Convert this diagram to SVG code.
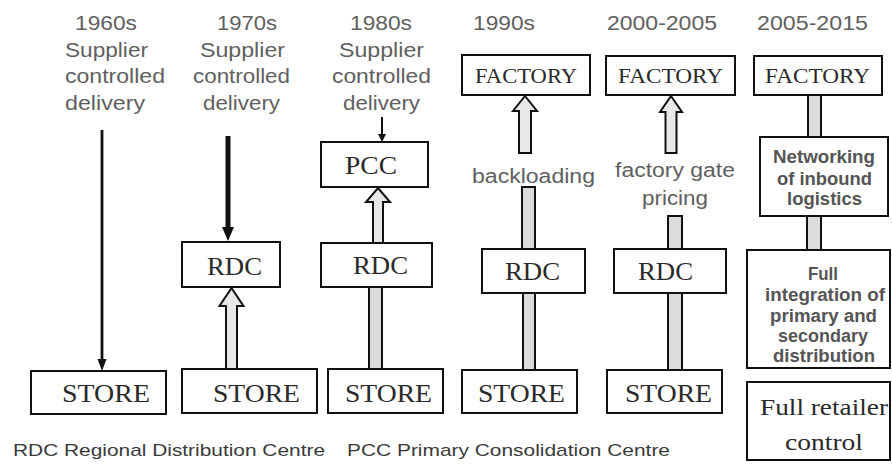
<svg xmlns="http://www.w3.org/2000/svg" width="892" height="465" viewBox="0 0 892 465">
<style>
.bg{fill:#fff}
.box{fill:#fff;stroke:#111;stroke-width:2}
.bar{fill:#dcdcdc;stroke:#111;stroke-width:2}
.blk{fill:#e8e8e8;stroke:#111;stroke-width:2;stroke-linejoin:miter}
.ln{stroke:#111;fill:none}
.hd{fill:#111}
.hdr{font-family:"Liberation Sans",Arial,sans-serif;font-size:20px;fill:#606060}
.ftr{font-family:"Liberation Sans",Arial,sans-serif;font-size:17px;fill:#3a3a3a}
.bld{font-family:"Liberation Sans",Arial,sans-serif;font-size:18px;font-weight:bold;fill:#555}
.ser{font-family:"Liberation Serif","Times New Roman",serif;fill:#2a2a2a}
</style>
<rect class="bg" x="0" y="0" width="892" height="465"/>

<g id="headers">
<text class="hdr" x="75" y="30" textLength="62" lengthAdjust="spacingAndGlyphs">1960s</text>
<text class="hdr" x="65" y="57" textLength="83" lengthAdjust="spacingAndGlyphs">Supplier</text>
<text class="hdr" x="65" y="83" textLength="100" lengthAdjust="spacingAndGlyphs">controlled</text>
<text class="hdr" x="65" y="110" textLength="80" lengthAdjust="spacingAndGlyphs">delivery</text>
<text class="hdr" x="217" y="30" textLength="60" lengthAdjust="spacingAndGlyphs">1970s</text>
<text class="hdr" x="200" y="57" textLength="85" lengthAdjust="spacingAndGlyphs">Supplier</text>
<text class="hdr" x="193" y="83" textLength="97" lengthAdjust="spacingAndGlyphs">controlled</text>
<text class="hdr" x="203" y="110" textLength="77" lengthAdjust="spacingAndGlyphs">delivery</text>
<text class="hdr" x="350" y="30" textLength="62" lengthAdjust="spacingAndGlyphs">1980s</text>
<text class="hdr" x="339" y="57" textLength="85" lengthAdjust="spacingAndGlyphs">Supplier</text>
<text class="hdr" x="332" y="83" textLength="99" lengthAdjust="spacingAndGlyphs">controlled</text>
<text class="hdr" x="343" y="110" textLength="77" lengthAdjust="spacingAndGlyphs">delivery</text>
<text class="hdr" x="473" y="30" textLength="62" lengthAdjust="spacingAndGlyphs">1990s</text>
<text class="hdr" x="607" y="30" textLength="110" lengthAdjust="spacingAndGlyphs">2000-2005</text>
<text class="hdr" x="757" y="30" textLength="111" lengthAdjust="spacingAndGlyphs">2005-2015</text>
<text class="hdr" x="472" y="183" textLength="123" lengthAdjust="spacingAndGlyphs">backloading</text>
<text class="hdr" x="615" y="177" textLength="120" lengthAdjust="spacingAndGlyphs">factory gate</text>
<text class="hdr" x="642" y="205" textLength="66" lengthAdjust="spacingAndGlyphs">pricing</text>
</g>

<g id="connectors">
<line class="ln" x1="102" y1="130" x2="102" y2="362" stroke-width="2.8"/>
<polygon class="hd" points="97.5,359 106.5,359 102,371"/>
<line class="ln" x1="228" y1="136" x2="228" y2="230" stroke-width="5"/>
<polygon class="hd" points="222,227 234,227 228,241"/>
<line class="ln" x1="382" y1="117" x2="382" y2="137" stroke-width="2"/>
<polygon class="hd" points="378,134 386,134 382,142"/>
<path class="blk" d="M231.5,288 L243.5,306 L237,306 L237,369 L226,369 L226,306 L219.5,306 Z"/>
<path class="blk" d="M378,188 L390,202 L383,202 L383,243 L373,243 L373,202 L366,202 Z"/>
<path class="blk" d="M525,96 L537,111 L531,111 L531,153 L519,153 L519,111 L513,111 Z"/>
<path class="blk" d="M671,96 L682,112 L676.5,112 L676.5,153 L665.5,153 L665.5,112 L660,112 Z"/>
<rect class="bar" x="369" y="287" width="13" height="82"/>
<rect class="bar" x="522" y="187" width="13" height="62"/>
<rect class="bar" x="523" y="293" width="12" height="77"/>
<rect class="bar" x="668" y="216" width="14" height="33"/>
<rect class="bar" x="668" y="293" width="14" height="77"/>
<rect class="bar" x="808" y="95" width="13" height="42"/>
<rect class="bar" x="807" y="216" width="14" height="34"/>
</g>

<g id="store1"><rect class="box" x="31" y="371" width="135" height="43"/><text class="ser" x="62" y="402" font-size="25" textLength="88" lengthAdjust="spacingAndGlyphs">STORE</text></g>
<g id="store2"><rect class="box" x="182" y="369" width="135" height="44"/><text class="ser" x="213" y="402" font-size="25" textLength="87" lengthAdjust="spacingAndGlyphs">STORE</text></g>
<g id="store3"><rect class="box" x="328" y="369" width="115" height="44"/><text class="ser" x="345" y="402" font-size="25" textLength="87" lengthAdjust="spacingAndGlyphs">STORE</text></g>
<g id="store4"><rect class="box" x="462" y="370" width="115" height="43"/><text class="ser" x="478" y="402" font-size="25" textLength="87" lengthAdjust="spacingAndGlyphs">STORE</text></g>
<g id="store5"><rect class="box" x="607" y="370" width="115" height="43"/><text class="ser" x="625" y="402" font-size="25" textLength="87" lengthAdjust="spacingAndGlyphs">STORE</text></g>

<g id="rdc2"><rect class="box" x="182" y="242" width="98" height="45"/><text class="ser" x="207" y="275" font-size="26" textLength="55" lengthAdjust="spacingAndGlyphs">RDC</text></g>
<g id="rdc3"><rect class="box" x="321" y="243" width="111" height="44"/><text class="ser" x="353" y="274" font-size="26" textLength="55" lengthAdjust="spacingAndGlyphs">RDC</text></g>
<g id="rdc4"><rect class="box" x="482" y="249" width="103" height="44"/><text class="ser" x="505" y="280" font-size="26" textLength="55" lengthAdjust="spacingAndGlyphs">RDC</text></g>
<g id="rdc5"><rect class="box" x="614" y="249" width="112" height="44"/><text class="ser" x="638" y="280" font-size="26" textLength="55" lengthAdjust="spacingAndGlyphs">RDC</text></g>

<g id="pcc3"><rect class="box" x="321" y="142" width="107" height="45"/><text class="ser" x="345" y="174" font-size="26" textLength="52" lengthAdjust="spacingAndGlyphs">PCC</text></g>

<g id="factory4"><rect class="box" x="462" y="55" width="128" height="40"/><text class="ser" x="475" y="83" font-size="22" textLength="102" lengthAdjust="spacingAndGlyphs">FACTORY</text></g>
<g id="factory5"><rect class="box" x="606" y="56" width="129" height="39"/><text class="ser" x="618" y="83" font-size="22" textLength="105" lengthAdjust="spacingAndGlyphs">FACTORY</text></g>
<g id="factory6"><rect class="box" x="754" y="56" width="128" height="39"/><text class="ser" x="765" y="83" font-size="22" textLength="105" lengthAdjust="spacingAndGlyphs">FACTORY</text></g>

<g id="networking"><rect class="box" x="760" y="137" width="128" height="79"/>
<text class="bld" x="773" y="163" textLength="102" lengthAdjust="spacingAndGlyphs">Networking</text>
<text class="bld" x="777" y="185" textLength="95" lengthAdjust="spacingAndGlyphs">of inbound</text>
<text class="bld" x="787" y="205" textLength="75" lengthAdjust="spacingAndGlyphs">logistics</text>
</g>

<g id="integration"><rect class="box" x="747" y="250" width="143" height="118"/>
<text class="bld" x="808" y="280" textLength="30" lengthAdjust="spacingAndGlyphs">Full</text>
<text class="bld" x="765" y="301" textLength="120" lengthAdjust="spacingAndGlyphs">integration of</text>
<text class="bld" x="770" y="322" textLength="107" lengthAdjust="spacingAndGlyphs">primary and</text>
<text class="bld" x="778" y="342" textLength="90" lengthAdjust="spacingAndGlyphs">secondary</text>
<text class="bld" x="773" y="362" textLength="102" lengthAdjust="spacingAndGlyphs">distribution</text>
</g>

<g id="retailer"><rect class="box" x="747" y="382" width="143" height="78"/>
<text class="ser" x="760" y="415" font-size="24" textLength="128" lengthAdjust="spacingAndGlyphs">Full retailer</text>
<text class="ser" x="785" y="450" font-size="24" textLength="78" lengthAdjust="spacingAndGlyphs">control</text>
</g>

<g id="legend">
<text class="ftr" x="13" y="456" textLength="312" lengthAdjust="spacingAndGlyphs">RDC Regional Distribution Centre</text>
<text class="ftr" x="347" y="456" textLength="323" lengthAdjust="spacingAndGlyphs">PCC Primary Consolidation Centre</text>
</g>
</svg>
